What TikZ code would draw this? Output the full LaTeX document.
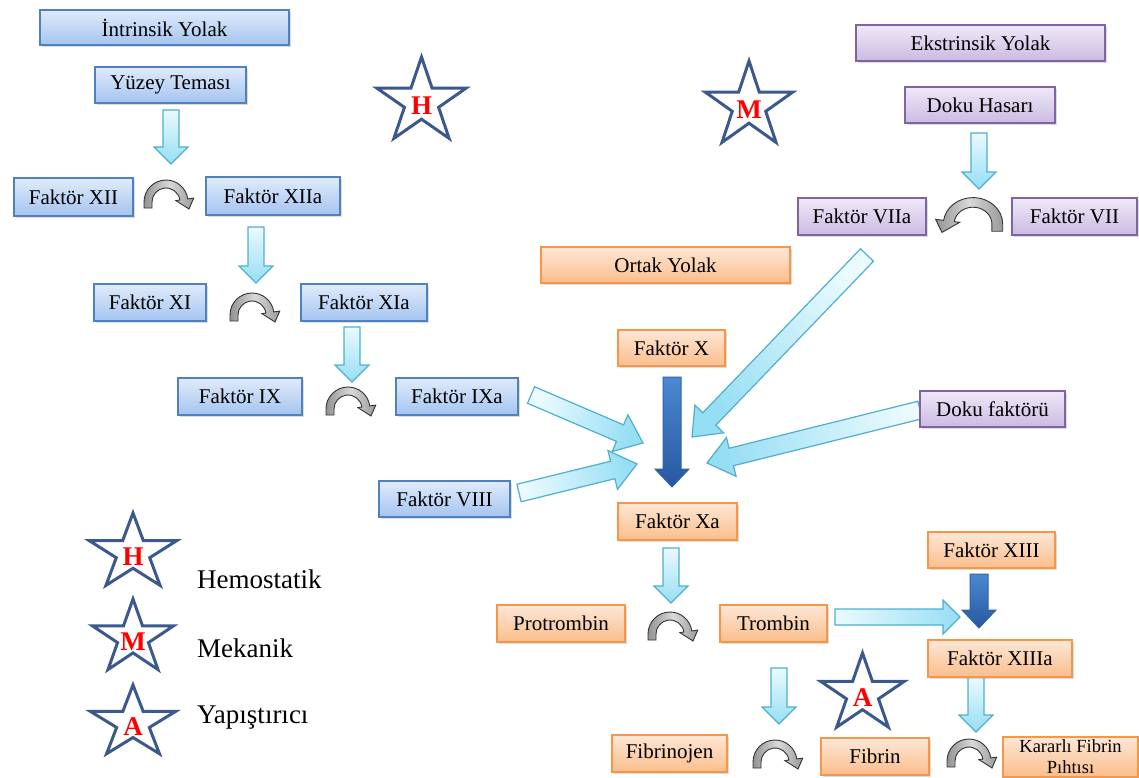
\documentclass[tikz,border=0pt]{standalone}
\usepackage{fontspec}
\setmainfont{Liberation Serif}
\usetikzlibrary{calc,shadows}
\definecolor{bBorder}{RGB}{79,129,189}
\definecolor{bTop}{RGB}{224,235,251}
\definecolor{bBot}{RGB}{164,196,240}
\definecolor{pBorder}{RGB}{128,100,162}
\definecolor{pTop}{RGB}{239,233,247}
\definecolor{pBot}{RGB}{203,186,226}
\definecolor{oBorder}{RGB}{247,150,70}
\definecolor{oTop}{RGB}{253,231,214}
\definecolor{oBot}{RGB}{250,190,140}
\definecolor{cBorder}{RGB}{80,175,205}
\definecolor{cLight}{RGB}{234,250,254}
\definecolor{cDark}{RGB}{150,222,244}
\definecolor{dTop}{RGB}{76,136,210}
\definecolor{dBot}{RGB}{38,88,160}
\definecolor{dBorder}{RGB}{48,98,168}
\definecolor{starBlue}{RGB}{59,89,140}

\newcommand\blockarrow[6]{%
  \path let \p1=(#2), \p2=(#3), \n1={atan2((\y2)-(\y1),(\x2)-(\x1))} in \pgfextra{\xdef\baAng{\n1}};
  \pgfmathsetmacro\baSh{\baAng+90}
  \coordinate (ba-n) at ($(#3)!#6pt!(#2)$);
  \path[#1, shading angle=\baSh]
    ($(#2)!#4pt!90:(#3)$) -- ($(ba-n)!#4pt!90:(#3)$) -- ($(ba-n)!#5pt!90:(#3)$) -- (#3)
    -- ($(ba-n)!#5pt!-90:(#3)$) -- ($(ba-n)!#4pt!-90:(#3)$) -- ($(#2)!#4pt!-90:(#3)$) -- cycle;
}
\newcommand\starat[5]{%
  \begin{scope}[shift={(#1,#2)}, xscale=#3, yscale=-#4]
    \path[starline] (90:1) -- (126:0.382) -- (162:1) -- (198:0.382) -- (234:1) -- (270:0.382)
      -- (306:1) -- (342:0.382) -- (18:1) -- (54:0.382) -- cycle;
  \end{scope}
  \node[starletter] (#5) at (#1,#2+4) {#5};
}

\begin{document}
\begin{tikzpicture}[x=1pt,y=-1pt,
  box/.style={rectangle, inner sep=0pt, line width=1.4pt, font=\fontsize{21}{24}\selectfont,
    drop shadow={opacity=0.28, shadow xshift=1.5pt, shadow yshift=-2pt}},
  bluebox/.style={box, draw=bBorder, top color=bTop, bottom color=bBot},
  purplebox/.style={box, draw=pBorder, top color=pTop, bottom color=pBot},
  orangebox/.style={box, draw=oBorder, top color=oTop, bottom color=oBot},
  cyanarrow/.style={draw=cBorder, line width=1.2pt, line join=miter, top color=cLight, bottom color=cDark},
  darkarrow/.style={draw=dBorder, line width=1pt, line join=miter, top color=dTop, bottom color=dBot},
  curvline/.style={draw=black!80, line width=0.9pt, left color=gray!85, right color=gray!80, middle color=gray!30},
  starline/.style={draw=starBlue, line width=3pt, line join=miter, fill=white},
  starletter/.style={text=red, font=\fontsize{27}{30}\selectfont\bfseries, inner sep=0pt},
  legend/.style={anchor=base west, font=\fontsize{27}{30}\selectfont, inner sep=0pt},
  curv/.pic={
    \path[curvline, yscale=-1] (-22,-6) -- (-22,0) arc[start angle=180, end angle=8, radius=22]
      -- (8:28) -- (23,-7) -- (8:10) -- (8:14) arc[start angle=8, end angle=180, radius=14]
      -- (-14,-6) -- cycle;
  }
]
\useasboundingbox (0,0) rectangle (1139,778);

% ---- coordinates for block arrows
\coordinate (c1s) at (171,110); \coordinate (c1e) at (171,164);
\coordinate (c2s) at (256,227); \coordinate (c2e) at (256,283);
\coordinate (c3s) at (352,327); \coordinate (c3e) at (352,382);
\coordinate (c4s) at (979,133); \coordinate (c4e) at (979,189);
\coordinate (c5s) at (671,548); \coordinate (c5e) at (671,603);
\coordinate (c6s) at (779,668); \coordinate (c6e) at (779,724);
\coordinate (c7s) at (976,677); \coordinate (c7e) at (976,732);
\coordinate (c8s) at (835,617); \coordinate (c8e) at (960,617);
\coordinate (d1s) at (531,395); \coordinate (d1e) at (643,443);
\coordinate (d2s) at (519,493); \coordinate (d2e) at (637,464);
\coordinate (d3s) at (867,255); \coordinate (d3e) at (692,437);
\coordinate (d4s) at (920,410); \coordinate (d4e) at (707,463);
\coordinate (k1s) at (672,377); \coordinate (k1e) at (672,487);
\coordinate (k2s) at (979,574); \coordinate (k2e) at (979,628);

\blockarrow{cyanarrow}{c1s}{c1e}{8}{17}{17}
\blockarrow{cyanarrow}{c2s}{c2e}{8}{17}{17}
\blockarrow{cyanarrow}{c3s}{c3e}{8}{17}{17}
\blockarrow{cyanarrow}{c4s}{c4e}{8}{17}{17}
\blockarrow{cyanarrow}{c5s}{c5e}{8}{17}{17}
\blockarrow{cyanarrow}{c6s}{c6e}{8}{17}{17}
\blockarrow{cyanarrow}{c7s}{c7e}{8}{17}{17}
\blockarrow{cyanarrow}{c8s}{c8e}{8}{17}{17}
\blockarrow{cyanarrow}{d1s}{d1e}{9}{20}{25}
\blockarrow{cyanarrow}{d2s}{d2e}{9}{20}{25}
\blockarrow{cyanarrow}{d3s}{d3e}{9}{20}{25}
\blockarrow{cyanarrow}{d4s}{d4e}{9}{20}{25}
\blockarrow{darkarrow}{k1s}{k1e}{9}{17}{18}
\blockarrow{darkarrow}{k2s}{k2e}{9}{17}{18}

% ---- curved arrows
\pic (r1) at (166,202) {curv};
\pic (r2) at (252,315) {curv};
\pic (r3) at (348,409) {curv};
\pic[xscale=-1.35, yscale=1.2] (r4) at (973,224) {curv};
\pic (r5) at (670,634) {curv};
\pic (r6) at (775,762) {curv};
\pic (r7) at (969,761) {curv};

% ---- blue boxes
\node[bluebox, minimum width=249pt, minimum height=35pt] (int) at (164.5,27.5) {İntrinsik Yolak};
\node[bluebox, minimum width=151pt, minimum height=36pt] (yuz) at (170.5,85) {Yüzey Teması};
\node[bluebox, minimum width=119pt, minimum height=38pt] (f12) at (73.5,197) {Faktör XII};
\node[bluebox, minimum width=134pt, minimum height=38pt] (f12a) at (273,196) {Faktör XIIa};
\node[bluebox, minimum width=112pt, minimum height=37pt] (f11) at (150,302.5) {Faktör XI};
\node[bluebox, minimum width=126pt, minimum height=37pt] (f11a) at (364,302.5) {Faktör XIa};
\node[bluebox, minimum width=124pt, minimum height=37pt] (f9) at (240,396.5) {Faktör IX};
\node[bluebox, minimum width=122pt, minimum height=37pt] (f9a) at (457,396.5) {Faktör IXa};
\node[bluebox, minimum width=131pt, minimum height=36pt] (f8) at (444.5,499) {Faktör VIII};

% ---- purple boxes
\node[purplebox, minimum width=249pt, minimum height=36pt] (eks) at (980.5,43) {Ekstrinsik Yolak};
\node[purplebox, minimum width=150pt, minimum height=36pt] (dok) at (980,105) {Doku Hasarı};
\node[purplebox, minimum width=128pt, minimum height=37pt] (f7a) at (862,216.5) {Faktör VIIa};
\node[purplebox, minimum width=125pt, minimum height=37pt] (f7) at (1074.5,216.5) {Faktör VII};
\node[purplebox, minimum width=145pt, minimum height=36pt] (dokf) at (992.5,409) {Doku faktörü};

% ---- orange boxes
\node[orangebox, minimum width=249pt, minimum height=36pt] (ort) at (665.5,265) {Ortak Yolak};
\node[orangebox, minimum width=107pt, minimum height=36pt] (fx) at (671.5,348) {Faktör X};
\node[orangebox, minimum width=119pt, minimum height=37pt] (fxa) at (677.5,521.5) {Faktör Xa};
\node[orangebox, minimum width=127pt, minimum height=36pt] (f13) at (991.5,550) {Faktör XIII};
\node[orangebox, minimum width=128pt, minimum height=37pt] (pro) at (561,623.5) {Protrombin};
\node[orangebox, minimum width=107pt, minimum height=37pt] (tro) at (773.5,623.5) {Trombin};
\node[orangebox, minimum width=144pt, minimum height=37pt] (f13a) at (1000,658.5) {Faktör XIIIa};
\node[orangebox, minimum width=115pt, minimum height=37pt] (fbj) at (669.5,753.5) {Fibrinojen};
\node[orangebox, minimum width=108pt, minimum height=37pt] (fib) at (875,756.5) {Fibrin};
\node[orangebox, minimum width=135pt, minimum height=40pt, align=center,
  font=\fontsize{18.5}{21}\selectfont] (kar) at (1070.5,757) {Kararlı Fibrin\\Pıhtısı};

% ---- stars
\starat{421.5}{102}{47}{45}{H}
\starat{749}{106}{46}{45}{M}
\starat{862.5}{694}{44}{41}{A}
\begin{scope}
\starat{133}{553}{46}{40}{H}
\starat{133}{638}{42.5}{39}{M}
\starat{133}{723}{45}{38}{A}
\end{scope}

% ---- legend
\node[legend] (lh) at (197,588) {Hemostatik};
\node[legend] (lm) at (197,657) {Mekanik};
\node[legend] (la) at (197,723) {Yapıştırıcı};
\end{tikzpicture}
\end{document}
